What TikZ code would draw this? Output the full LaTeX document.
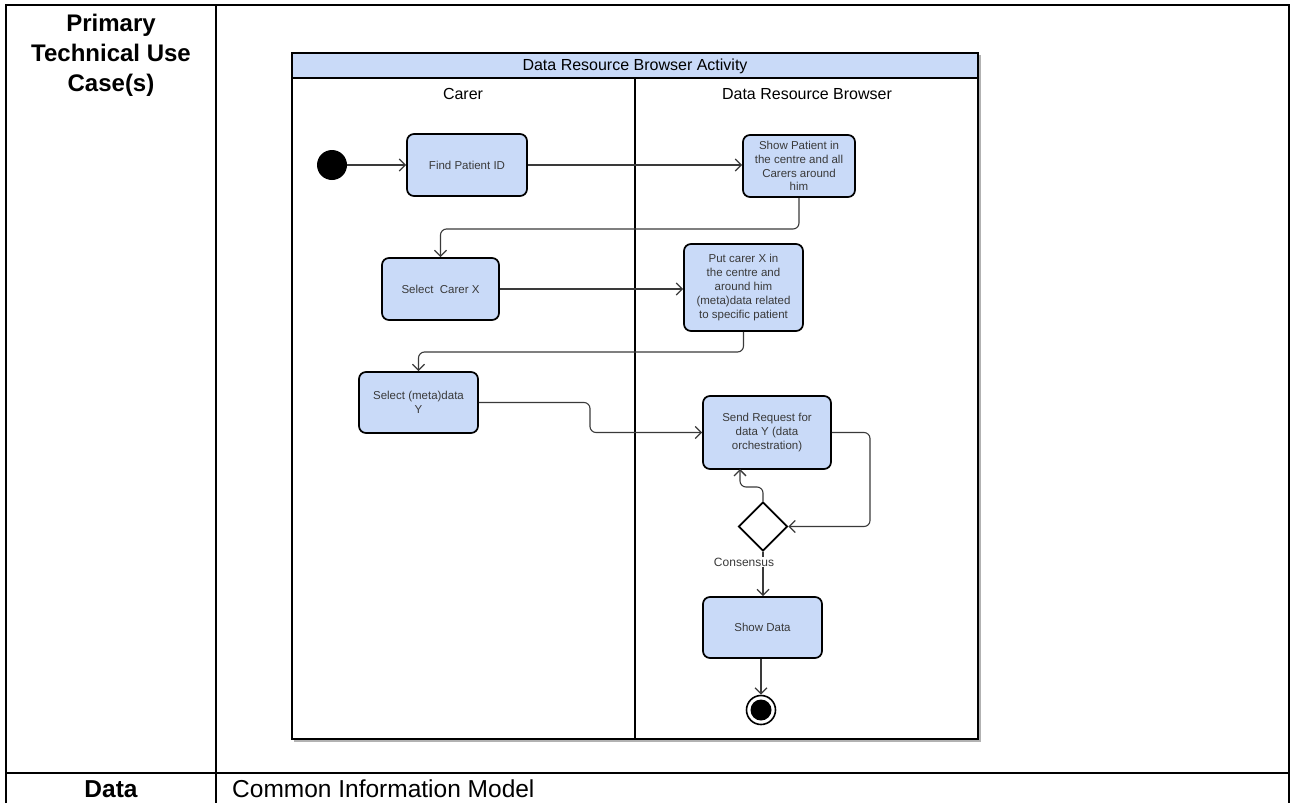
\documentclass[tikz,border=0pt]{standalone}
\usepackage{fontspec}
\setmainfont{Liberation Sans}
\usetikzlibrary{arrows.meta,shapes.geometric}
\definecolor{lanefill}{HTML}{C9DAF8}
\definecolor{ink}{HTML}{3A3A3A}

\begin{document}
\begin{tikzpicture}[x=1pt,y=-1pt,
  grid/.style={draw=black,line width=2.4pt},
  frame/.style={draw=black,line width=1.5pt},
  act/.style={draw=black,line width=1.7pt,rounded corners=7pt,fill=lanefill,
    text=ink,font=\fontsize{11.5}{13.8}\selectfont,align=center,inner sep=0pt},
  flow/.style={draw=ink,line width=1.1pt,rounded corners=6pt,
    -{Straight Barb[length=6pt,width=12pt,line width=1.3pt]}},
  lbl/.style={text=ink,font=\fontsize{12}{14}\selectfont,inner sep=1pt},
  lanetxt/.style={font=\fontsize{16}{19}\selectfont},
]
\useasboundingbox (0,0) rectangle (1292,803);

% ---- table ----
\draw[grid] (6,803) -- (6,5) -- (1289,5) -- (1289,803);
\draw[grid] (216,5) -- (216,803);
\draw[grid] (6,773) -- (1289,773);
\node[font=\fontsize{24}{30}\selectfont\bfseries,align=center,anchor=north,inner sep=0pt]
  (hdr) at (111,14) {Primary\\Technical Use\\Case(s)};
\node[font=\fontsize{24.5}{29}\selectfont\bfseries,anchor=base,inner sep=0pt]
  (datahdr) at (111,797) {Data};
\node[font=\fontsize{24.5}{29}\selectfont,anchor=base west,inner sep=0pt]
  (datacell) at (232,797) {Common Information Model};

% ---- activity frame ----
\draw[gray!60,line width=1.2pt] (294,741) -- (980,741) -- (980,55);
\filldraw[fill=lanefill,frame,line width=1.2pt] (292,53) rectangle (978,78);
\draw[frame] (292,78) rectangle (978,739);
\draw[draw=black,line width=2pt] (635,78) -- (635,739);
\node[lanetxt] (title) at (635,66) {Data Resource Browser Activity};
\node[lanetxt] (lane1) at (463,94) {Carer};
\node[lanetxt] (lane2) at (807,94) {Data Resource Browser};

% ---- nodes ----
\node[circle,fill=black,minimum size=30pt,inner sep=0pt] (start) at (332,165) {};
\node[act,minimum width=120pt,minimum height=62pt] (find) at (467,165) {Find Patient ID};
\node[act,minimum width=112pt,minimum height=62pt] (show) at (799,166)
  {Show Patient in\\the centre and all\\Carers around\\him};
\node[act,minimum width=117pt,minimum height=62pt] (selc) at (440.5,289) {Select\ \ Carer X};
\node[act,minimum width=119pt,minimum height=87pt] (putc) at (743.5,287.5)
  {Put carer X in\\the centre and\\around him\\(meta)data related\\to specific patient};
\node[act,minimum width=119pt,minimum height=61pt] (selm) at (418.5,402.5)
  {Select (meta)data\\Y};
\node[act,minimum width=128pt,minimum height=73pt] (send) at (767,432.5)
  {Send Request for\\data Y (data\\orchestration)};
\node[diamond,draw=black,line width=1.7pt,fill=white,minimum width=49pt,
  minimum height=49pt,inner sep=0pt] (dia) at (763,526.5) {};
\node[act,minimum width=119pt,minimum height=61pt] (sd) at (762.5,627.5) {Show Data};
\node[circle,draw=black,line width=1.6pt,minimum size=29pt,inner sep=0pt] (end) at (761,710) {};
\fill[black] (end.center) circle (10.5pt);

% ---- connectors ----
\draw[flow] (start) -- (find);
\draw[flow] (find.east) -- (find.east -| show.west);
\draw[flow] (show.south) -- (799,229) -| (selc.north);
\draw[flow] (selc.east) -- (putc.west |- selc.east);
\draw[flow] (putc.south) -- (743.5,352) -| (selm.north);
\draw[flow] (selm.east) -- (590,402.5) |- (send.west);
\draw[flow] (send.east) -- (870,432.5) |- (dia.east);
\draw[flow] (dia.north) -- (763,487) -| (740,469);
\draw[flow] (dia.south) -- (sd.north -| dia.south);
\node[lbl,fill=white] (cons) at (744,562) {Consensus};
\draw[flow] (sd.south -| end.north) -- (end.north);
\end{tikzpicture}
\end{document}
